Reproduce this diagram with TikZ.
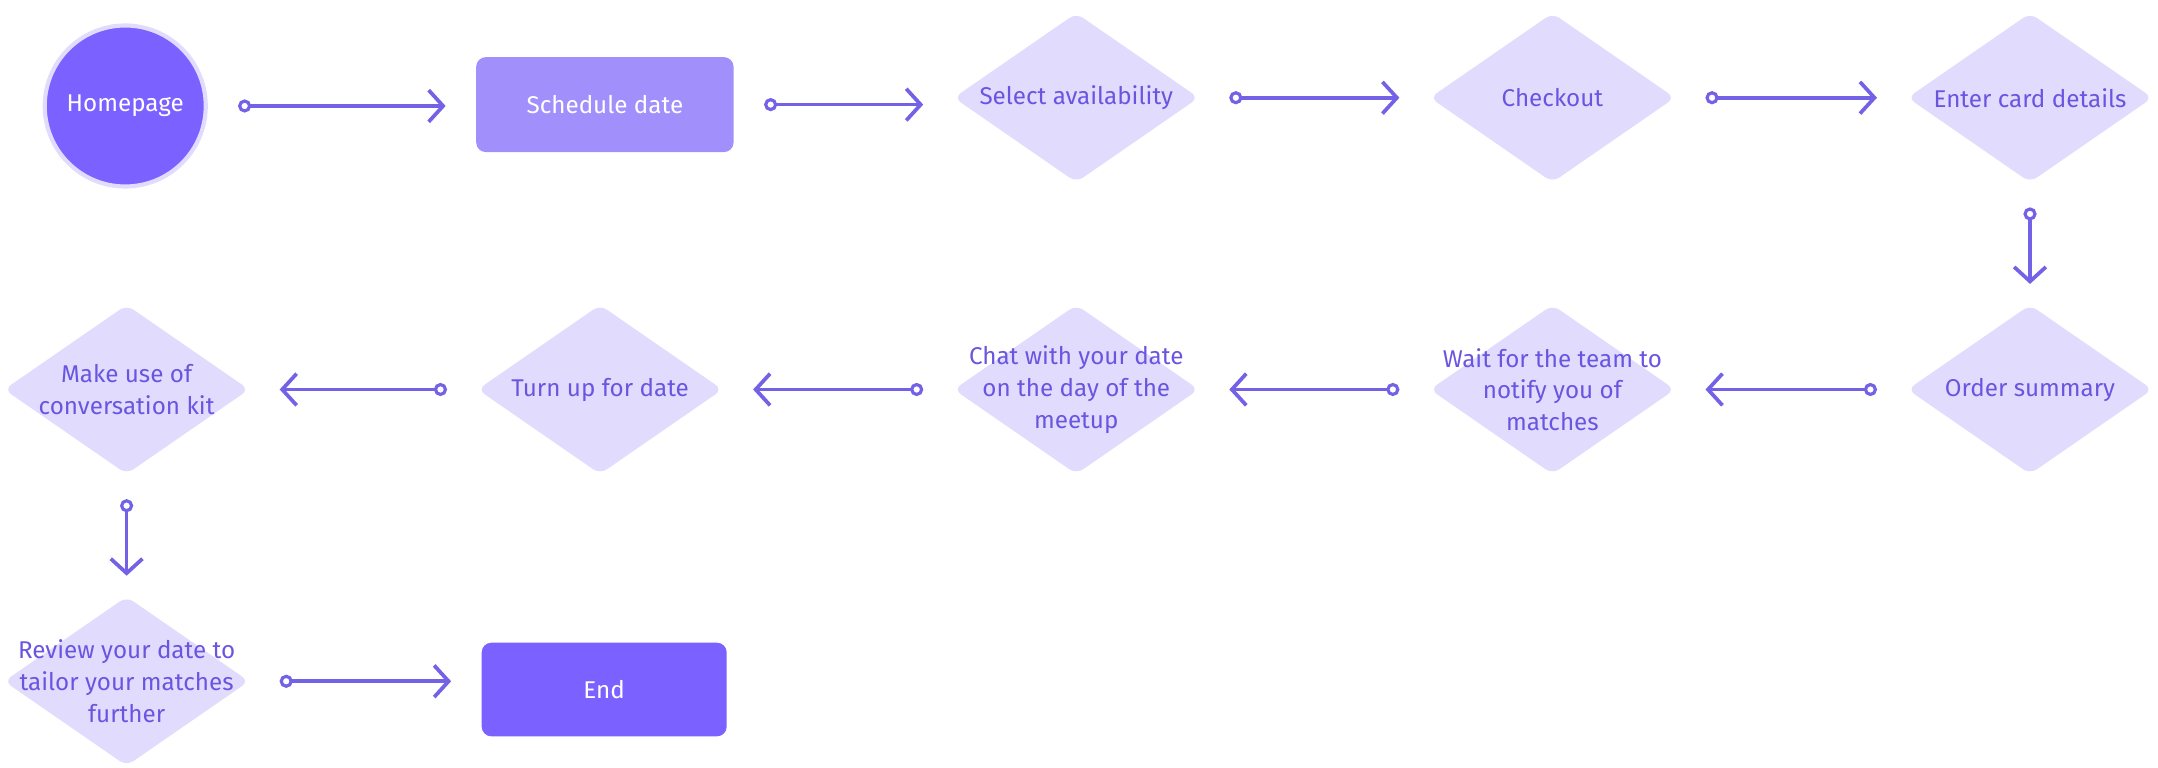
\documentclass[tikz,border=0pt]{standalone}
\usepackage{fontspec}
\setmainfont{Fira Sans}
\usetikzlibrary{shapes.geometric,arrows.meta}
\definecolor{lav}{HTML}{E1DCFD}
\definecolor{deep}{HTML}{7B61FF}
\definecolor{mid}{HTML}{A190FB}
\definecolor{ink}{HTML}{6A55E0}
\definecolor{arr}{HTML}{7361E6}
\tikzset{
  dia/.style={shape=diamond, fill=lav, minimum width=178pt, minimum height=123pt, inner sep=0pt, rounded corners=6pt},
  dtext/.style={text=ink, align=center, font=\fontsize{17.6}{23}\selectfont},
  box/.style={shape=rectangle, rounded corners=7pt, text=white, font=\fontsize{17.6}{23}\selectfont},
  flow/.style={draw=arr, line width=2.7pt, {Circle[open,length=9.5pt,width=9.5pt,line width=2.3pt]}-{Straight Barb[length=10.5pt,width=23pt,line width=2.7pt]}},
  hflow/.style={flow, shorten <=22pt, shorten >=22pt},
  vflow/.style={flow, shorten <=18pt, shorten >=15pt},
}
\begin{document}
\begin{tikzpicture}[x=1pt,y=-1pt]
\useasboundingbox (0,0) rectangle (1568,558);
% row 1
\node[circle, fill=deep, draw=lav, line width=3pt, minimum size=117pt, text=white, font=\fontsize{17.6}{23}\selectfont] (home) at (91,77) {Homepage};
\node[box, fill=mid, minimum width=187pt, minimum height=69pt] (sched) at (439.5,76) {Schedule date};
\node[dia] (sel) at (782,71) {};
\node[dtext] at (sel) {Select availability};
\node[dia] (chk) at (1128,71) {};
\node[dtext] at (chk) {Checkout};
\node[dia] (card) at (1475,71) {};
\node[dtext] at (card) {Enter card details};
% row 2
\node[dia] (ord) at (1475,283) {};
\node[dtext] at (ord) {Order summary};
\node[dia] (wait) at (1128,283) {};
\node[dtext] at (wait) {Wait for the team to\\notify you of\\matches};
\node[dia] (chat) at (782,283) {};
\node[dtext] at (chat) {Chat with your date\\on the day of the\\meetup};
\node[dia] (turn) at (436,283) {};
\node[dtext] at (turn) {Turn up for date};
\node[dia] (kit) at (92,283) {};
\node[dtext] at (kit) {Make use of\\conversation kit};
% row 3
\node[dia] (rev) at (92,495) {};
\node[dtext] at (rev) {Review your date to\\tailor your matches\\further};
\node[box, fill=deep, minimum width=178pt, minimum height=68pt] (end) at (439,501) {End};
% connectors
\draw[hflow] (home.east) -- (home.east -| sched.west);
\draw[hflow] (sched.east) -- (sched.east -| sel.west);
\draw[hflow] (sel.east) -- (chk.west);
\draw[hflow] (chk.east) -- (card.west);
\draw[vflow] (card.south) -- (ord.north);
\draw[hflow] (ord.west) -- (wait.east);
\draw[hflow] (wait.west) -- (chat.east);
\draw[hflow] (chat.west) -- (turn.east);
\draw[hflow] (turn.west) -- (kit.east);
\draw[vflow] (kit.south) -- (rev.north);
\draw[hflow] (rev.east) -- (rev.east -| end.west);
\end{tikzpicture}
\end{document}
